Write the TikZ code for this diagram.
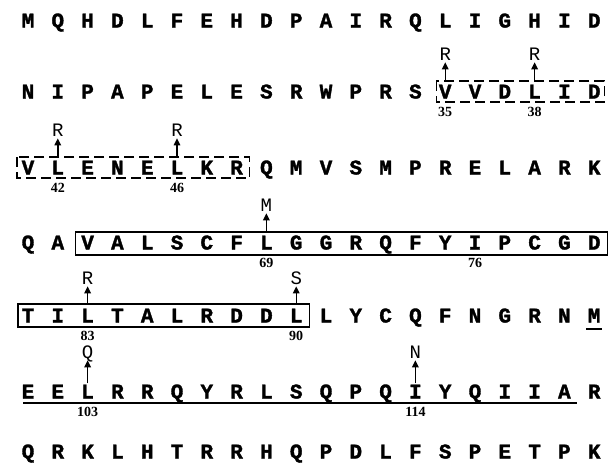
\documentclass[tikz,border=0pt]{standalone}
\usepackage{fontspec}
\setmonofont{Liberation Mono}
\newfontfamily\resfont{Liberation Mono}[BoldFeatures={FakeBold=1.6}]
\newfontfamily\digitfont{Liberation Serif}
\usetikzlibrary{arrows.meta, positioning, calc}

\begin{document}
\begin{tikzpicture}[x=1pt, y=-1pt,
    res/.style={inner sep=0pt, text height=13pt, text depth=0pt,
      font=\resfont\bfseries\fontsize{21}{21}\selectfont},
    subst/.style={inner sep=0pt, text height=11pt, text depth=0pt,
      font=\ttfamily\fontsize{19}{19}\selectfont},
    resnum/.style={inner sep=0pt, font=\digitfont\bfseries\fontsize{14}{14}\selectfont},
    mutarrow/.style={-{Triangle[length=7pt, width=6.5pt]}, line width=1.4pt, shorten >=2pt},
    solidbox/.style={line width=1.3pt},
    dashbox/.style={line width=1.2pt, dash pattern=on 10pt off 5pt}]
  \useasboundingbox (0,0) rectangle (614,475);

  % sequence, 20 residues per row
  \foreach \seq/\ypos [count=\r] in {
      {M,Q,H,D,L,F,E,H,D,P,A,I,R,Q,L,I,G,H,I,D}/21,
      {N,I,P,A,P,E,L,E,S,R,W,P,R,S,V,V,D,L,I,D}/92,
      {V,L,E,N,E,L,K,R,Q,M,V,S,M,P,R,E,L,A,R,K}/168,
      {Q,A,V,A,L,S,C,F,L,G,G,R,Q,F,Y,I,P,C,G,D}/243,
      {T,I,L,T,A,L,R,D,D,L,L,Y,C,Q,F,N,G,R,N,M}/316,
      {E,E,L,R,R,Q,Y,R,L,S,Q,P,Q,I,Y,Q,I,I,A,R}/392,
      {Q,R,K,L,H,T,R,R,H,Q,P,D,L,F,S,P,E,T,P,K}/452}
    \foreach \a [count=\c from 0] in \seq
      \node[res] (r\r c\c) at ({28+29.8*\c}, \ypos) {\a};

  % dashed boxes
  \draw[dashbox] ($(r2c14)+(-9,-11)$) rectangle ($(r2c19)+(10,10)$);
  \draw[dashbox] ($(r3c0)+(-11,-11)$) rectangle ($(r3c7)+(13,10)$);
  % solid boxes
  \draw[solidbox] ($(r4c2)+(-12,-11)$) rectangle ($(r4c19)+(13,12)$);
  \draw[solidbox] ($(r5c0)+(-10,-12)$) rectangle ($(r5c9)+(13,11)$);
  % underlines
  \draw[solidbox] ($(r6c0)+(-5,11)$) -- ($(r6c18)+(13,11)$);
  \draw[solidbox] ($(r5c19)+(-8,13)$) -- ($(r5c19)+(8,13)$);

  % substitutions with residue numbers
  \foreach \cell/\aa/\pos/\up/\gap in {r2c14/R/35/25/4.5, r2c17/R/38/25/4.5,
      r3c1/R/42/25/4.5, r3c5/R/46/25/4.5, r4c8/M/69/25/4.5,
      r5c2/R/83/25/4.5, r5c9/S/90/25/4.5, r6c2/Q/103/27/2, r6c13/N/114/27/2} {
    \node[subst, above=\up pt of \cell] (s\pos) {\aa};
    \draw[mutarrow, shorten <=\gap pt] (\cell.north) -- (s\pos.south);
    \node[resnum, below=8pt of \cell] (n\pos) {\pos};
  }
  \node[resnum, below=8pt of r4c15] (n76) {76};
\end{tikzpicture}
\end{document}
